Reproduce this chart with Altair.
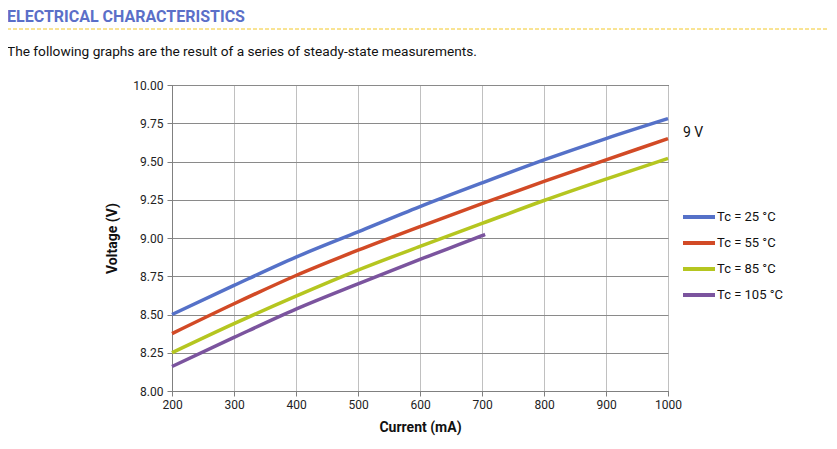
import altair as alt
import pandas as pd

currents = [200, 300, 400, 500, 600, 700, 800, 900, 1000]
v_25 = [8.50, 8.69, 8.875, 9.04, 9.205, 9.36, 9.51, 9.65, 9.78]
v_55 = [8.375, 8.57, 8.755, 8.92, 9.075, 9.225, 9.37, 9.51, 9.65]
v_85 = [8.25, 8.44, 8.62, 8.79, 8.945, 9.095, 9.245, 9.385, 9.52]
currents_105 = [200, 300, 400, 500, 600, 700, 705]
v_105 = [8.16, 8.35, 8.535, 8.70, 8.86, 9.015, 9.023]

series = ["Tc = 25 °C", "Tc = 55 °C", "Tc = 85 °C", "Tc = 105 °C"]
colors = ["#5571c8", "#d24a26", "#b5c620", "#7b549e"]
y_ticks = [8.00, 8.25, 8.50, 8.75, 9.00, 9.25, 9.50, 9.75, 10.00]
x_ticks = [200, 300, 400, 500, 600, 700, 800, 900, 1000]

rows = []
for name, xs, ys in [(series[0], currents, v_25), (series[1], currents, v_55),
                     (series[2], currents, v_85), (series[3], currents_105, v_105)]:
    for x, y in zip(xs, ys):
        rows.append({"series": name, "current": x, "voltage": y})
df = pd.DataFrame(rows)

W, H = 496, 306
FONT = "Roboto"

lines = alt.Chart(df).mark_line(strokeWidth=3.5, interpolate="monotone").encode(
    x=alt.X("current:Q",
            scale=alt.Scale(domain=[200, 1000], nice=False, zero=False),
            axis=alt.Axis(values=x_ticks, title="Current (mA)", format="d",
                          grid=True, gridColor="#c0c0c0", gridWidth=1,
                          domainColor="#808080", tickColor="#808080", tickSize=5,
                          labelFont=FONT, labelFontSize=12, labelColor="#222",
                          labelPadding=3, labelFlush=False,
                          titleFont=FONT, titleFontSize=14, titleFontWeight="bold",
                          titleColor="#111", titlePadding=10)),
    y=alt.Y("voltage:Q",
            scale=alt.Scale(domain=[8.0, 10.0], nice=False, zero=False),
            axis=alt.Axis(values=y_ticks, title="Voltage (V)", format=".2f",
                          grid=True, gridColor="#8a8a8a", gridWidth=1,
                          domainColor="#808080", tickColor="#808080", tickSize=5,
                          labelFont=FONT, labelFontSize=12, labelColor="#222",
                          labelPadding=4, labelFlush=False,
                          titleFont=FONT, titleFontSize=14, titleFontWeight="bold",
                          titleColor="#111", titlePadding=13)),
    color=alt.Color("series:N",
                    scale=alt.Scale(domain=series, range=colors),
                    legend=alt.Legend(title=None, orient="none", legendX=509, legendY=114,
                                      symbolType="stroke", symbolStrokeWidth=4,
                                      symbolSize=1024, labelFont=FONT, labelFontSize=13,
                                      labelColor="#111", labelOffset=0, rowPadding=0)),
    order=alt.Order("current:Q"),
)

header = alt.Chart(pd.DataFrame({"t": ["ELECTRICAL CHARACTERISTICS"]})).mark_text(
    align="left", baseline="alphabetic", font=FONT, fontSize=16, fontWeight="bold",
    color="#5b6fc8"
).encode(text="t:N", x=alt.value(-165), y=alt.value(-63))

subtitle = alt.Chart(pd.DataFrame({"t": ["The following graphs are the result of a series of steady-state measurements."]})).mark_text(
    align="left", baseline="alphabetic", font=FONT, fontSize=13.7, color="#111"
).encode(text="t:N", x=alt.value(-165), y=alt.value(-29))

dash = alt.Chart(pd.DataFrame({"a": [0]})).mark_rule(
    color="#f2c829", strokeDash=[4, 2], strokeWidth=1
).encode(x=alt.value(-165), x2=alt.value(658), y=alt.value(-56))

volt = alt.Chart(pd.DataFrame({"t": ["9 V"]})).mark_text(
    align="left", baseline="middle", font=FONT, fontSize=14, color="#111"
).encode(text="t:N", x=alt.value(511), y=alt.value(48))

chart = alt.layer(lines, header, subtitle, dash, volt).properties(
    width=W, height=H,
    autosize=alt.AutoSizeParams(type="none"),
    padding={"left": 164, "top": 77, "right": 161, "bottom": 50},
    background="white",
).configure_view(stroke="#000000", strokeWidth=1)

chart.save("out.html", embed_options={"renderer": "svg", "actions": False})
